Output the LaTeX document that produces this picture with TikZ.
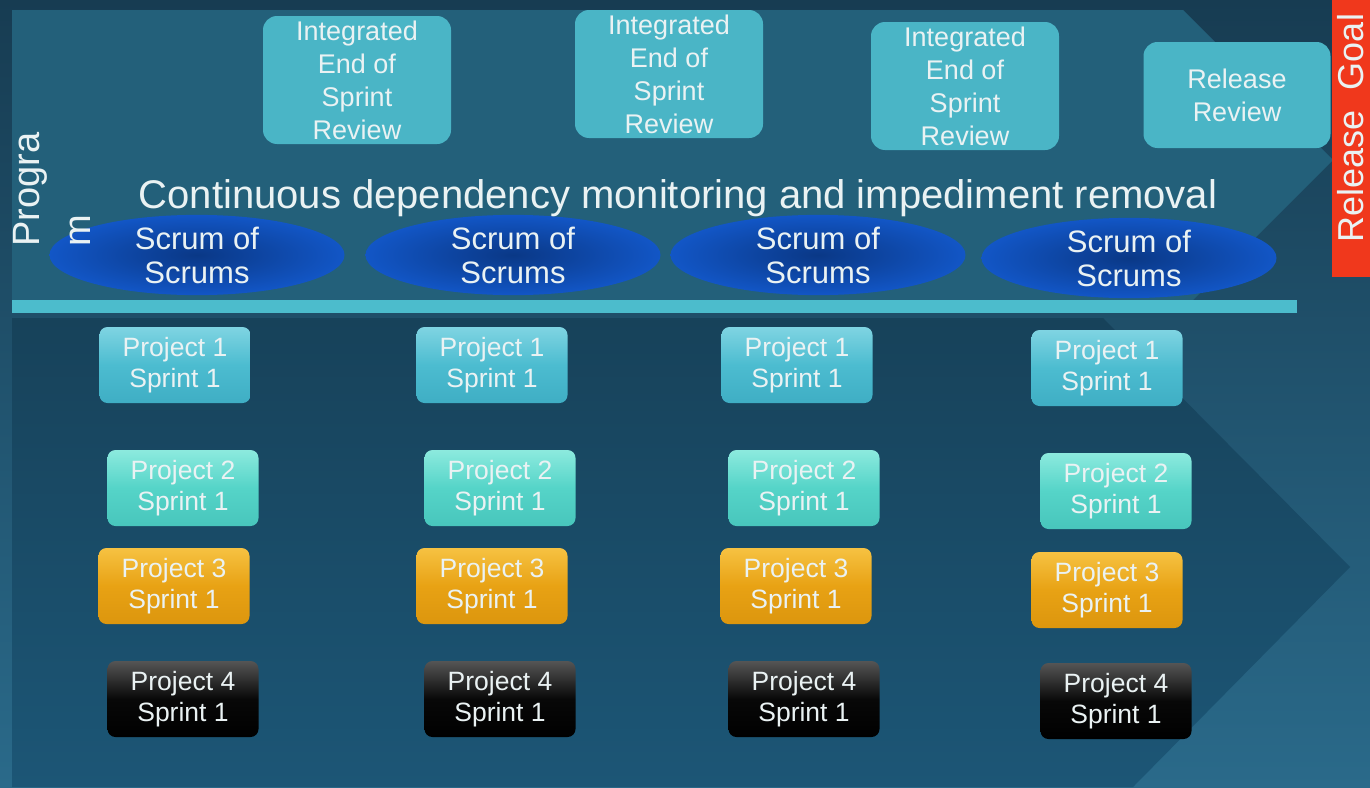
\documentclass[tikz,border=0pt]{standalone}
\usepackage{fontspec}
\setmainfont{Liberation Sans}
\usetikzlibrary{shapes.geometric}
\definecolor{bgtop}{HTML}{173C52}
\definecolor{bgbot}{HTML}{2A6A8A}
\definecolor{panelup}{HTML}{23607A}
\definecolor{chevtop}{HTML}{17425A}
\definecolor{chevbot}{HTML}{1C5676}
\definecolor{linecyan}{HTML}{4CBCCC}
\definecolor{revfill}{HTML}{4AB5C6}
\definecolor{goalred}{HTML}{F0381C}
\definecolor{sosin}{HTML}{0A3886}
\definecolor{sosout}{HTML}{1256C6}
\definecolor{txtwhite}{HTML}{EAF2F3}
\definecolor{onetop}{HTML}{7FD4E2}
\definecolor{onemid}{HTML}{4CBCD0}
\definecolor{onebot}{HTML}{3FAEC4}
\definecolor{twotop}{HTML}{8CEADE}
\definecolor{twomid}{HTML}{55D4C8}
\definecolor{twobot}{HTML}{48C6BC}
\definecolor{threetop}{HTML}{F6C242}
\definecolor{threemid}{HTML}{E8A214}
\definecolor{threebot}{HTML}{DC960E}
\definecolor{fourtop}{HTML}{555555}
\definecolor{fourmid}{HTML}{080808}
\begin{document}
\begin{tikzpicture}[
			x=1pt, y=-1pt,
			every node/.style={text=txtwhite},
			review/.style={rectangle, rounded corners=14pt, fill=revfill, minimum width=188pt, minimum height=128pt, inner sep=0pt, align=center, font=\fontsize{27}{33}\selectfont},
			scrum/.style={ellipse, inner color=sosin, outer color=sosout, minimum width=295pt, minimum height=68pt, inner sep=0pt, align=center, font=\fontsize{31}{34}\selectfont},
			proj/.style={rectangle, rounded corners=8pt, minimum width=151pt, minimum height=76pt, inner sep=0pt, align=center, font=\fontsize{26.5}{31}\selectfont},
			pone/.style={proj, top color=onetop, bottom color=onebot, middle color=onemid},
			ptwo/.style={proj, top color=twotop, bottom color=twobot, middle color=twomid},
			pthree/.style={proj, top color=threetop, bottom color=threebot, middle color=threemid},
			pfour/.style={proj, top color=fourtop, bottom color=black, middle color=fourmid}
		]
		\useasboundingbox (0,0) rectangle (1370,787);
		\shade[top color=bgtop, bottom color=bgbot] (0,0) rectangle (1370,787);
		\fill[panelup] (12,10) -- (1183,10) -- (1333,160) -- (1190,303) -- (12,303) -- cycle;
		\shade[top color=chevtop, bottom color=chevbot] (12,318) -- (1103,318) -- (1350,567) -- (1133,787) -- (12,787) -- cycle;
		\fill[linecyan] (12,300) rectangle (1297,313);
		\fill[goalred] (1332,0) rectangle (1370,277);
		\node[review] (rev1) at (357,80) {Integrated\\End of\\Sprint\\Review};
		\node[review] (rev2) at (669,74) {Integrated\\End of\\Sprint\\Review};
		\node[review] (rev3) at (965,86) {Integrated\\End of\\Sprint\\Review};
		\node[review, minimum width=187pt, minimum height=106pt] (relrev) at (1237,95) {Release\\Review};
		\node[rotate=90, font=\fontsize{36}{40}\selectfont] (goal) at (1351,128) {Release\ \ Goal};
		\node[scrum] (sos1) at (197,255) {Scrum of\\Scrums};
		\node[scrum] (sos2) at (513,255) {Scrum of\\Scrums};
		\node[scrum] (sos3) at (818,255) {Scrum of\\Scrums};
		\node[scrum] (sos4) at (1129,258) {Scrum of\\Scrums};
		\node[anchor=base, inner sep=0pt, font=\fontsize{40}{44}\selectfont] (monitor) at (678,208) {Continuous dependency monitoring and impediment removal};
		\node[rotate=90, anchor=north west, inner sep=0pt, align=left, font=\fontsize{38}{51}\selectfont] (program) at (13,247) {Progra\\m};
		\node[pone] (p1a) at (175,365) {Project 1\\Sprint 1};
		\node[ptwo] (p2a) at (183,488) {Project 2\\Sprint 1};
		\node[pthree] (p3a) at (174,586) {Project 3\\Sprint 1};
		\node[pfour] (p4a) at (183,699) {Project 4\\Sprint 1};
		\node[pone] (p1b) at (492,365) {Project 1\\Sprint 1};
		\node[ptwo] (p2b) at (500,488) {Project 2\\Sprint 1};
		\node[pthree] (p3b) at (492,586) {Project 3\\Sprint 1};
		\node[pfour] (p4b) at (500,699) {Project 4\\Sprint 1};
		\node[pone] (p1c) at (797,365) {Project 1\\Sprint 1};
		\node[ptwo] (p2c) at (804,488) {Project 2\\Sprint 1};
		\node[pthree] (p3c) at (796,586) {Project 3\\Sprint 1};
		\node[pfour] (p4c) at (804,699) {Project 4\\Sprint 1};
		\node[pone] (p1d) at (1107,368) {Project 1\\Sprint 1};
		\node[ptwo] (p2d) at (1116,491) {Project 2\\Sprint 1};
		\node[pthree] (p3d) at (1107,590) {Project 3\\Sprint 1};
		\node[pfour] (p4d) at (1116,701) {Project 4\\Sprint 1};
	\end{tikzpicture}
\end{document}
